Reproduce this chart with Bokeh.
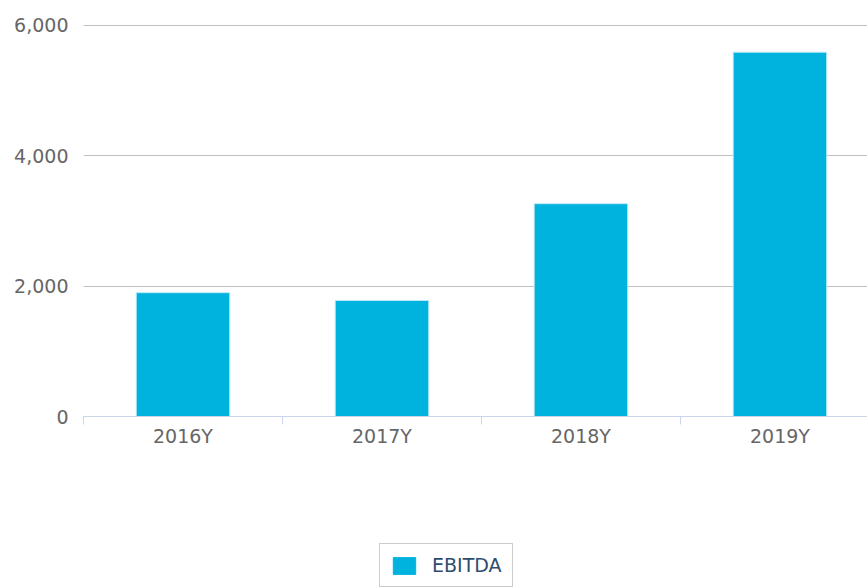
from bokeh.plotting import figure
from bokeh.layouts import column
from bokeh.models import (Range1d, LinearAxis, FixedTicker, NumeralTickFormatter,
                          Legend, LegendItem, ColumnDataSource)
from bokeh.embed import file_html
from bokeh.resources import INLINE

categories = ["2016Y", "2017Y", "2018Y", "2019Y"]
ebitda = [1900, 1780, 3265, 5590]
y_ticks = [0, 2000, 4000, 6000]
series_name = "EBITDA"

FONT = "DejaVu Sans"
BAR = "#00b2de"
centers = [i + 0.5 for i in range(len(categories))]
bounds = list(range(len(categories) + 1))
src = ColumnDataSource(dict(x=centers, cat=categories, val=ebitda))

p = figure(frame_width=784, frame_height=392, output_backend="svg", toolbar_location=None,
           x_range=Range1d(0, 3.94), y_range=Range1d(0, 6015),
           min_border_left=83, min_border_top=24, min_border_right=0, min_border_bottom=100,
           x_axis_location=None, y_axis_location=None)
p.outline_line_color = None

r = p.vbar(x="x", top="val", width=0.47, source=src, fill_color=BAR,
           line_color="#bfe9f6", line_width=1)

# y axis
ya = LinearAxis(ticker=FixedTicker(ticks=y_ticks), formatter=NumeralTickFormatter(format="0,0"))
ya.axis_line_color = None
ya.major_tick_line_color = None
ya.major_tick_out = 0
ya.major_tick_in = 0
ya.minor_tick_line_color = None
ya.major_label_text_font = FONT
ya.major_label_text_font_size = "19px"
ya.major_label_text_color = "#666666"
ya.major_label_standoff = 15
p.add_layout(ya, "left")

# x axis: labels at category centres, ticks at category boundaries
xa = LinearAxis(ticker=FixedTicker(ticks=centers, minor_ticks=bounds),
                major_label_overrides={c: s for c, s in zip(centers, categories)})
xa.axis_line_color = "#ccd6eb"
xa.major_tick_line_color = None
xa.major_tick_in = 0
xa.major_tick_out = 0
xa.minor_tick_line_color = "#ccd6eb"
xa.minor_tick_in = 0
xa.minor_tick_out = 8
xa.major_label_text_font = FONT
xa.major_label_text_font_size = "19px"
xa.major_label_text_color = "#666666"
xa.major_label_standoff = 0
p.add_layout(xa, "below")

p.xgrid.grid_line_color = None
p.ygrid.grid_line_color = "#c0c0c0"
p.ygrid.ticker = FixedTicker(ticks=y_ticks)

# legend strip below the chart (its renderer's data lies outside its view)
lf = figure(width=867, height=71, output_backend="svg", toolbar_location=None,
            x_range=Range1d(100, 101), y_range=Range1d(100000, 100001),
            min_border=0, x_axis_location=None, y_axis_location=None)
lf.outline_line_color = None
lf.grid.grid_line_color = None
lr = lf.vbar(x="x", top="val", width=0.47, source=src, fill_color=BAR, line_color=BAR)

legend = Legend(items=[LegendItem(label=series_name, renderers=[lr])], location=(296, 0),
                orientation="horizontal")
legend.label_text_font = FONT
legend.label_text_font_size = "19px"
legend.label_text_color = "#2e4d6e"
legend.border_line_color = "#999999"
legend.border_line_width = 1
legend.glyph_width = 28
legend.glyph_height = 21
legend.padding = 10
legend.spacing = 0
legend.label_standoff = 14
legend.margin = 0
lf.add_layout(legend)

layout = column(p, lf, spacing=0)
open("out.html", "w").write(file_html(layout, INLINE))
